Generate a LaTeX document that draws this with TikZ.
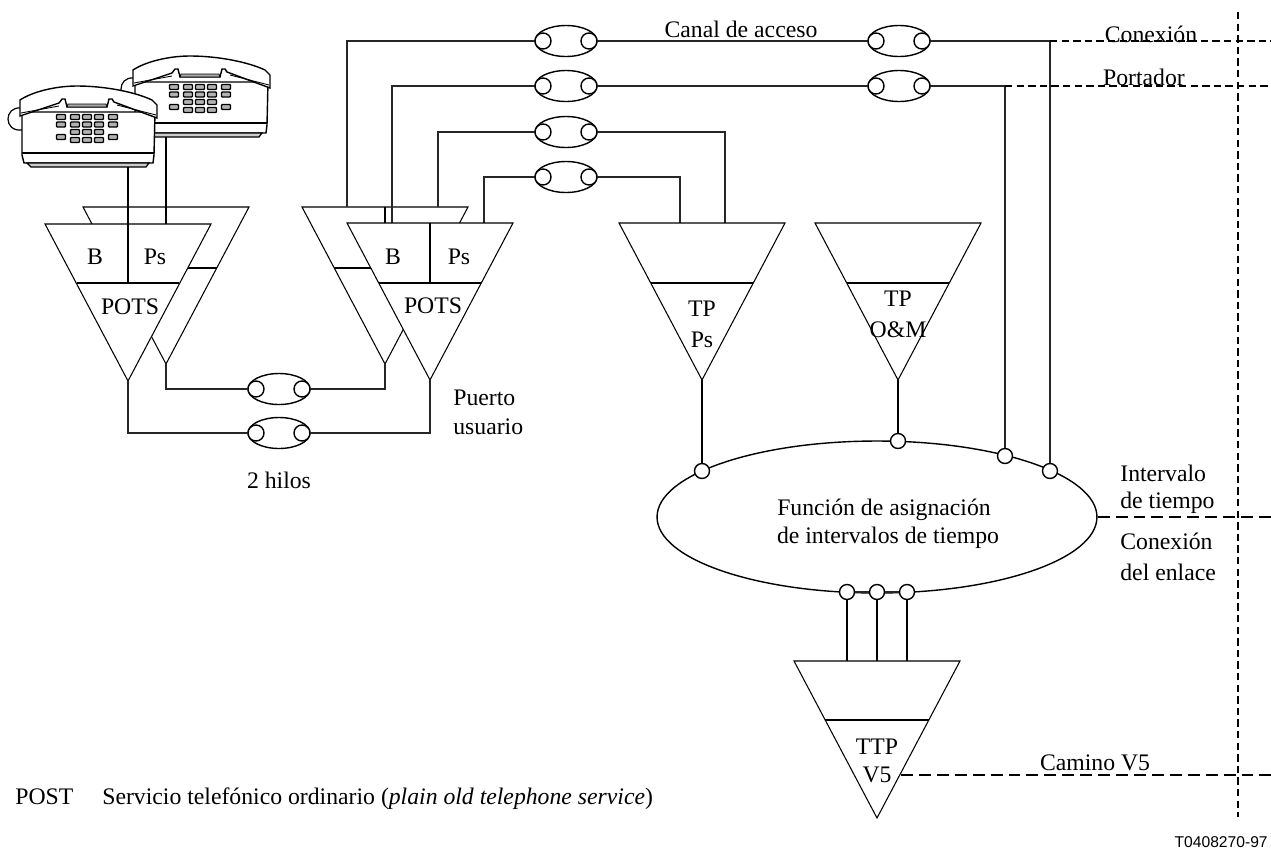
\documentclass[tikz,border=0pt]{standalone}
\usepackage{fontspec}
\setmainfont{Liberation Serif}
\newfontfamily\arialfont{Liberation Sans}
\usetikzlibrary{shapes.geometric}
\tikzset{
  txt/.style={font=\fontsize{13.5}{16}\selectfont, inner sep=0pt},
  linea/.style={line width=0.65pt, black!85},
  gruesa/.style={line width=1.2pt, black},
  tri/.style={line width=0.6pt, fill=white},
  rayasA/.style={line width=1pt, dash pattern=on 4.2pt off 2.4pt},
  rayasB/.style={line width=1pt, dash pattern=on 6.8pt off 3.4pt},
  oval/.style={draw, ellipse, line width=0.8pt, fill=white, inner sep=0pt, minimum width=1.24cm, minimum height=0.62cm},
  ojo/.style={draw, circle, line width=0.8pt, fill=white, inner sep=0pt, minimum size=0.32cm},
  toma/.style={draw, circle, line width=0.8pt, fill=white, inner sep=0pt, minimum size=0.3cm},
  tecla/.style={draw, line width=0.8pt, fill=black!30, rounded corners=0.5pt},
  telefono/.pic={
    % cord
    \draw[line width=0.7pt] (21,108) .. controls (4,106) and (3,132) .. (22,130);
    % body and base
    \draw[line width=0.8pt, fill=white] (22,112) -- (22,155) -- (24,163) -- (153,163) -- (154,155) -- (155,112) -- cycle;
    \draw[line width=0.7pt, fill=black!20] (27,163) -- (31,167) -- (146,167) -- (149,163) -- cycle;
    \draw[gruesa] (22,153) -- (154,153);
    % handset
    \draw[line width=0.8pt, fill=white] (20,116) -- (20,100) .. controls (32,92) and (55,86) .. (77,86)
      .. controls (105,86) and (135,92) .. (152,100) -- (157,105) -- (157,118) -- (114,102) -- (112,99) -- (109,99) -- (107,107)
      -- (67,107) -- (65,99) -- (62,99) -- (59,103) -- cycle;
    \draw[line width=0.5pt] (21,113) -- (59,106);
    \draw[line width=0.5pt] (156,115) -- (117,105);
    \draw[line width=0.5pt, fill=black!35] (68,104) -- (106,104) -- (107,107) -- (67,107) -- cycle;
    % keys
    \foreach \kx in {61,75,87,99,113} {
      \draw[tecla] (\kx-4.5,114.5) rectangle (\kx+4.5,119.5);
      \draw[tecla] (\kx-4.5,122) rectangle (\kx+4.5,127);
    }
    \foreach \kx in {75,87,99} {
      \draw[tecla] (\kx-4.5,129.5) rectangle (\kx+4.5,134.5);
      \draw[tecla] (\kx-4.5,137.5) rectangle (\kx+4.5,142.5);
    }
    \foreach \kx in {61,113} \draw[tecla] (\kx-4.5,134.5) rectangle (\kx+4.5,139.5);
  }
}

\begin{document}
\begin{tikzpicture}[x=0.02cm, y=-0.02cm]
  \useasboundingbox (0,0) rectangle (1271,849);

  % Triangle corners
  \foreach \n/\x/\y in {tl/166/207, fl/128/224, tr/385/207, fr/430/223, tps/702/223, tom/898/223, ttp/877/661} {
    \coordinate (\n a) at (\x-83,\y);
    \coordinate (\n b) at (\x+83,\y);
    \coordinate (\n c) at (\x,\y+157);
  }

  % Free ends
  \coordinate (ptr1) at (347,207);
  \coordinate (ptr2) at (392,223);
  \coordinate (ptr3) at (438,207);
  \coordinate (ptr4) at (484,223);
  \coordinate (ptps1) at (725,223);
  \coordinate (ptps2) at (680,223);
  \coordinate (con1) at (1050,41);
  \coordinate (con2) at (1271,41);
  \coordinate (por1) at (1005,86);
  \coordinate (por2) at (1271,86);
  \coordinate (int2) at (1271,517);
  \coordinate (cam1) at (901,775);
  \coordinate (cam2) at (1271,775);
  \coordinate (lim1) at (1238,12);
  \coordinate (lim2) at (1238,817);

  % Couplers
  \foreach \n/\x/\y in {a/566/41, b/566/86, c/566/132, d/566/177, e/899/41, f/899/86, g/279/389, h/279/433} {
    \node[oval] (ov\n) at (\x,\y) {};
    \node[ojo, anchor=west] (ov\n l) at (ov\n.west) {};
    \node[ojo, anchor=east] (ov\n r) at (ov\n.east) {};
  }

  % Back triangles
  \draw[tri] (tla) -- (tlb) -- (tlc) -- cycle;
  \draw[tri] (tra) -- (trb) -- (trc) -- cycle;
  \draw[gruesa] (150,268) -- (217,268);
  \draw[gruesa] (334,268) -- (400,268);
  \draw[gruesa] (385,207) -- (385,230);

  % Telephones
  \pic at (113,-30) {telefono};
  \pic at (0,0) {telefono};

  % Access channels
  \draw[linea] (ovdl.west) -| (ptr4);
  \draw[linea] (ovcl.west) -| (ptr3);
  \draw[linea] (ovbl.west) -| (ptr2);
  \draw[linea] (ovdr.east) -| (ptps2);
  \draw[linea] (ovcr.east) -| (ptps1);
  \draw[linea] (ovar.east) -- (ovel.west);
  \draw[linea] (ovbr.east) -- (ovfl.west);
  \draw[linea] (oval.west) -| (ptr1);

  % Front triangles
  \draw[tri] (fla) -- (flb) -- (flc) -- cycle;
  \draw[tri] (fra) -- (frb) -- (frc) -- cycle;
  \draw[tri] (tpsa) -- (tpsb) -- (tpsc) -- cycle;
  \draw[tri] (toma) -- (tomb) -- (tomc) -- cycle;
  \draw[tri] (ttpa) -- (ttpb) -- (ttpc) -- cycle;
  \draw[gruesa] (77,283) -- (179,283);
  \draw[gruesa] (379,283) -- (481,283);
  \draw[gruesa] (651,283) -- (753,283);
  \draw[gruesa] (847,283) -- (949,283);
  \draw[gruesa] (825,720) -- (929,720);
  \draw[gruesa] (430,223) -- (430,283);

  % Telephone lines
  \draw[gruesa] (128,167) -- (128,283);
  \draw[gruesa] (166,137) -- (166,224);

  % Two wire links
  \draw[linea] (flc) |- (ovhl.west);
  \draw[linea] (frc) |- (ovhr.east);
  \draw[linea] (tlc) |- (ovgl.west);
  \draw[linea] (trc) |- (ovgr.east);

  % Slot function
  \node[draw, ellipse, line width=0.8pt, inner sep=0pt, minimum width=8.8cm, minimum height=3.04cm] (fun) at (877,517) {};
  \draw[linea] (ovfr.east) -- (por1);
  \draw[linea] (over.east) -- (con1);
  \node[toma] (fa) at (702,471) {};
  \node[toma] (fb) at (898,441) {};
  \node[toma] (fc) at (1005,456) {};
  \node[toma] (fd) at (1050,471) {};
  \draw[gruesa] (tpsc) -- (fa);
  \draw[gruesa] (tomc) -- (fb);
  \draw[linea] (por1) -- (fc);
  \draw[linea] (con1) -- (fd);
  \node[toma] (fe) at (847,592) {};
  \node[toma] (ff) at (877,592) {};
  \node[toma] (fg) at (907,592) {};
  \draw[gruesa] (fe) -- (fe |- ttpa);
  \draw[gruesa] (ff) -- (ff |- ttpa);
  \draw[gruesa] (fg) -- (fg |- ttpa);
  \draw[linea] (fe) -- (ff) -- (fg);

  % Boundaries
  \draw[rayasA] (con1) -- (con2);
  \draw[rayasA] (por1) -- (por2);
  \draw[rayasB] (fun.east) -- (int2);
  \draw[rayasB] (cam1) -- (cam2);
  \draw[rayasA] (lim1) -- (lim2);

  % Labels
  \node[txt] (tb1) at (95,257) {B};
  \node[txt] (tp1) at (155,257) {Ps};
  \node[txt] (tpo1) at (130,307) {POTS};
  \node[txt] (tb2) at (393,257) {B};
  \node[txt] (tp2) at (459,257) {Ps};
  \node[txt] (tpo2) at (433,306) {POTS};
  \node[txt] (ttp1) at (702,309) {TP};
  \node[txt] (ttp2) at (702,340) {Ps};
  \node[txt] (tom1) at (898,299) {TP};
  \node[txt] (tom2) at (898,330) {O\&M};
  \node[txt] (tv1) at (877,747) {TTP};
  \node[txt] (tv2) at (877,775) {V5};
  \node[txt] (tcan) at (741,29) {Canal de acceso};
  \node[txt] (tcon) at (1151,34) {Conexión};
  \node[txt] (tpor) at (1144,77) {Portador};
  \node[txt, anchor=west] (tpu) at (453,398) {Puerto};
  \node[txt, anchor=west] (tus) at (453,427) {usuario};
  \node[txt] (thi) at (279,480) {2 hilos};
  \node[txt] (tfu) at (884,510) {Función de asignación};
  \node[txt] (tde) at (888,538) {de intervalos de tiempo};
  \node[txt, anchor=west] (tin) at (1120,473) {Intervalo};
  \node[txt, anchor=west] (tti) at (1120,503) {de tiempo};
  \node[txt, anchor=west] (tcx) at (1120,541) {Conexión};
  \node[txt, anchor=west] (ten) at (1120,572) {del enlace};
  \node[txt] (tca) at (1095,763) {Camino V5};
  \node[txt, anchor=base west] (tpost) at (15,804) {POST};
  \node[txt, anchor=base west] (tser) at (102,804) {Servicio telefónico ordinario (\textit{plain old telephone service})};
  \node[font=\arialfont\fontsize{8.9}{10}\selectfont, inner sep=0pt, anchor=east] (tref) at (1268,842) {T0408270-97};
\end{tikzpicture}
\end{document}
